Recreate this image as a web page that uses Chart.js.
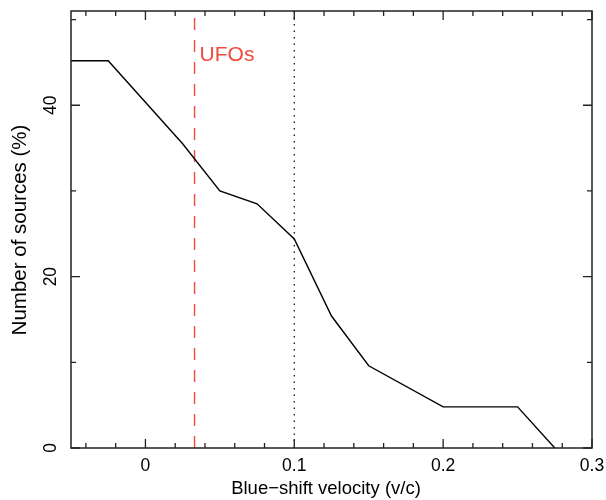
<!DOCTYPE html>
<html>
<head>
<meta charset="utf-8">
<script src="https://cdn.jsdelivr.net/npm/chart.js@4/dist/chart.umd.min.js"></script>
<style>
  html, body { margin: 0; padding: 0; background: #fff; }
  #box { width: 606px; height: 500px; }
</style>
</head>
<body>
<div id="box"><canvas id="grafico"></canvas></div>
<script>
// dados
const velocidade = [-0.05, -0.025, 0.025, 0.05, 0.075, 0.1, 0.125, 0.15, 0.2, 0.25, 0.275];
const fontes = [45.2, 45.2, 35.5, 30.0, 28.5, 24.4, 15.4, 9.6, 4.8, 4.8, 0];

const xTicks = [0, 0.1, 0.2, 0.3];
const xTickLabels = ['0', '0.1', '0.2', '0.3'];
const xMinor = [-0.04, -0.02, 0.02, 0.04, 0.06, 0.08, 0.12, 0.14, 0.16, 0.18, 0.22, 0.24, 0.26, 0.28];
const yTicks = [0, 20, 40];
const yTickLabels = ['0', '20', '40'];
const yMinor = [10, 30, 50];

const limiteUFO = 0.033;
const linhaPontilhada = 0.1;
const rotuloUFO = 'UFOs';
const tituloX = 'Blue\u2212shift velocity (v/c)';
const tituloY = 'Number of sources (%)';

const FONTE = '"Liberation Sans", Arial, sans-serif';

// desenha moldura, ticks para dentro, rótulos e títulos
const eixosPlugin = {
  id: 'eixos',
  afterDraw(chart) {
    const ctx = chart.ctx;
    const a = chart.chartArea;
    const sx = chart.scales.x;
    const sy = chart.scales.y;
    ctx.save();
    ctx.strokeStyle = '#222';
    ctx.lineWidth = 1.5;
    ctx.strokeRect(a.left, a.top, a.right - a.left, a.bottom - a.top);

    ctx.lineWidth = 1.3;
    const tickX = (v, len) => {
      const px = sx.getPixelForValue(v);
      ctx.beginPath();
      ctx.moveTo(px, a.bottom); ctx.lineTo(px, a.bottom - len);
      ctx.moveTo(px, a.top); ctx.lineTo(px, a.top + len);
      ctx.stroke();
    };
    const tickY = (v, len) => {
      const py = sy.getPixelForValue(v);
      ctx.beginPath();
      ctx.moveTo(a.left, py); ctx.lineTo(a.left + len, py);
      ctx.moveTo(a.right, py); ctx.lineTo(a.right - len, py);
      ctx.stroke();
    };
    xTicks.forEach(v => tickX(v, 9));
    xMinor.forEach(v => tickX(v, 5));
    yTicks.forEach(v => tickY(v, 9));
    yMinor.forEach(v => tickY(v, 5));

    ctx.fillStyle = '#000';
    ctx.font = '17.5px ' + FONTE;
    ctx.textAlign = 'center';
    ctx.textBaseline = 'middle';
    xTicks.forEach((v, i) => {
      ctx.fillText(xTickLabels[i], sx.getPixelForValue(v), 466);
    });
    yTicks.forEach((v, i) => {
      ctx.save();
      ctx.translate(51, sy.getPixelForValue(v));
      ctx.rotate(-Math.PI / 2);
      ctx.fillText(yTickLabels[i], 0, 0);
      ctx.restore();
    });

    ctx.font = '18.5px ' + FONTE;
    ctx.fillText(tituloX, 326, 489);
    ctx.font = '20.5px ' + FONTE;
    ctx.save();
    ctx.translate(20, 230);
    ctx.rotate(-Math.PI / 2);
    ctx.fillText(tituloY, 0, 0);
    ctx.restore();

    ctx.fillStyle = '#f0493e';
    ctx.font = '21px ' + FONTE;
    ctx.textAlign = 'left';
    ctx.textBaseline = 'alphabetic';
    ctx.fillText(rotuloUFO, sx.getPixelForValue(limiteUFO) + 5, 61);
    ctx.restore();
  }
};

const ctx = document.getElementById('grafico').getContext('2d');
window.grafico = new Chart(ctx, {
  type: 'line',
  plugins: [eixosPlugin],
  data: {
    datasets: [
      {
        label: 'fontes',
        data: velocidade.map((v, i) => ({ x: v, y: fontes[i] })),
        borderColor: '#000',
        borderWidth: 1.4,
        pointRadius: 0,
        fill: false,
        tension: 0
      },
      {
        label: 'UFOs',
        data: [{ x: limiteUFO, y: 0 }, { x: limiteUFO, y: 51 }],
        borderColor: '#f0493e',
        borderWidth: 1.4,
        borderDash: [12, 10],
        pointRadius: 0
      },
      {
        label: 'v=0.1',
        data: [{ x: linhaPontilhada, y: 0 }, { x: linhaPontilhada, y: 51 }],
        borderColor: '#000',
        borderWidth: 1.2,
        borderDash: [1.5, 5],
        pointRadius: 0
      }
    ]
  },
  options: {
    responsive: true,
    maintainAspectRatio: false,
    animation: false,
    layout: { padding: { left: 63, right: 14, top: 11, bottom: 44 } },
    scales: {
      x: {
        type: 'linear', min: -0.05, max: 0.3,
        ticks: { display: false }, grid: { display: false }, border: { display: false }
      },
      y: {
        type: 'linear', min: 0, max: 51,
        ticks: { display: false }, grid: { display: false }, border: { display: false }
      }
    },
    plugins: {
      legend: { display: false },
      tooltip: { enabled: false }
    }
  }
});
</script>
</body>
</html>
